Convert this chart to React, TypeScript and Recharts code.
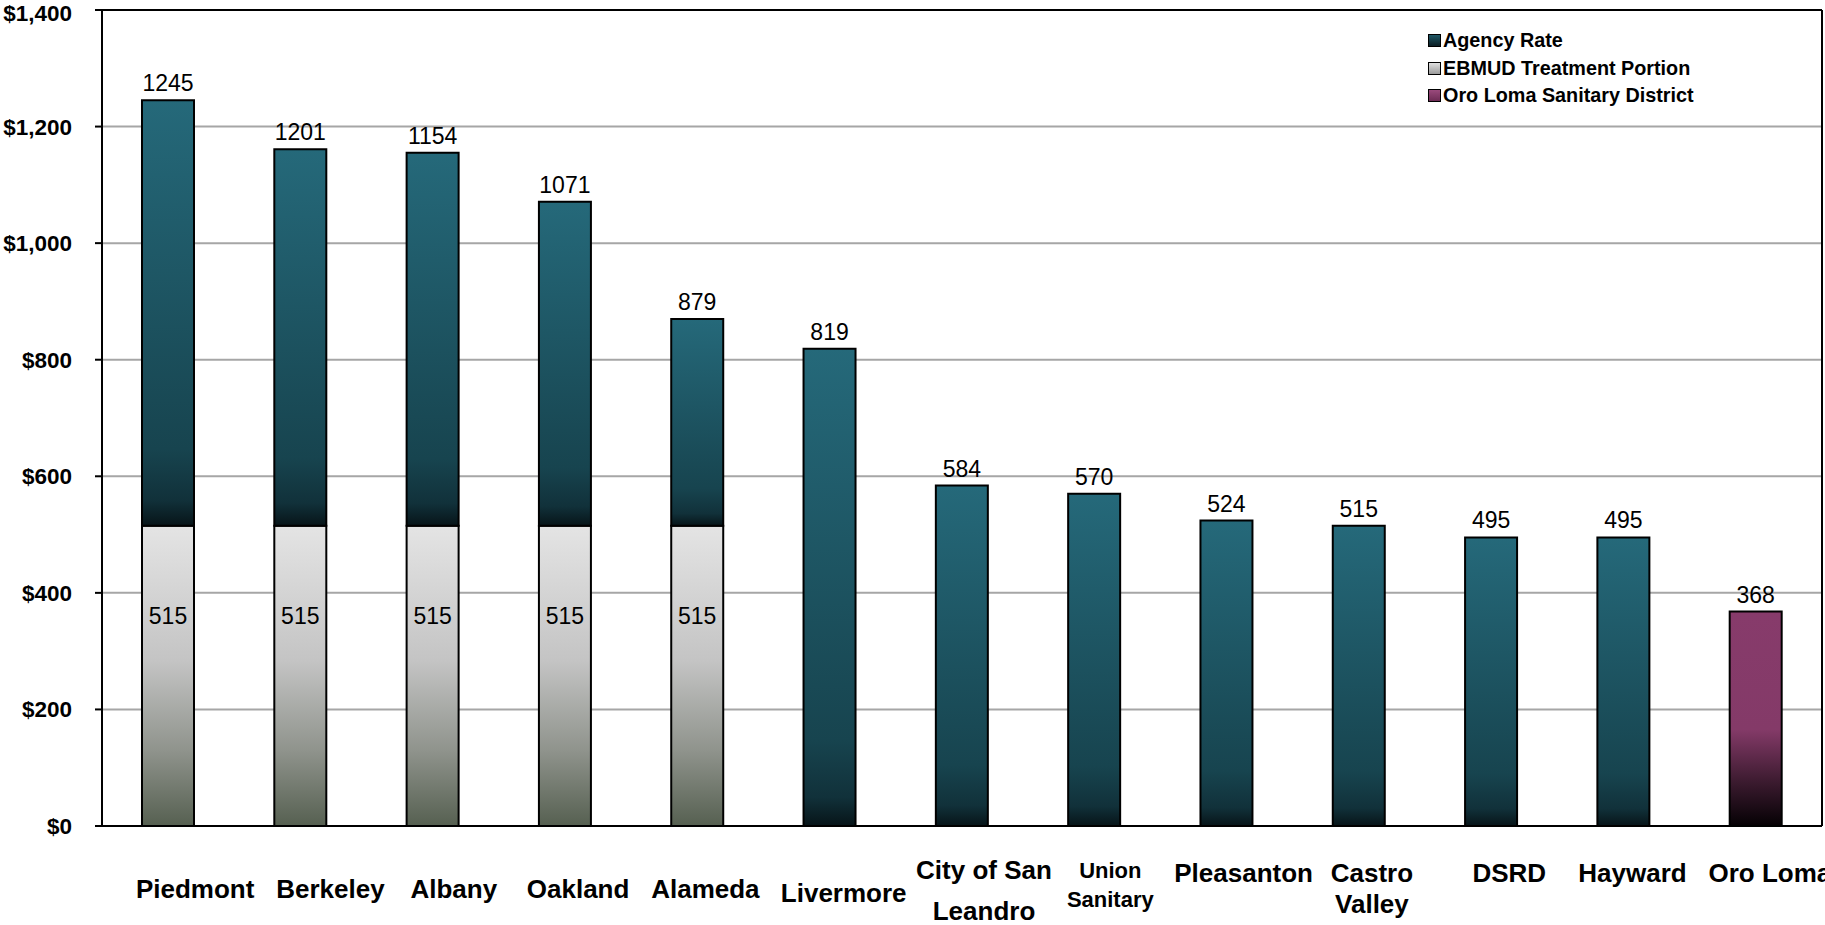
import React from 'react';
import { BarChart, Bar, XAxis, YAxis, CartesianGrid, ReferenceLine, LabelList } from 'recharts';

if (typeof document !== 'undefined') document.body.style.margin = '0';

const categories = [
  'Piedmont', 'Berkeley', 'Albany', 'Oakland', 'Alameda', 'Livermore', 'City of San Leandro',
  'Union Sanitary', 'Pleasanton', 'Castro Valley', 'DSRD', 'Hayward', 'Oro Loma',
];
// EBMUD treatment portion (bottom of the stacked bars)
const ebmudPortion = [515, 515, 515, 515, 515, null, null, null, null, null, null, null, null];
// agency rate on top of it
const agencyRate = [730, 646, 640, 556, 355, 819, 584, 570, 524, 515, 495, 495, null];
const oroLomaRate = [null, null, null, null, null, null, null, null, null, null, null, null, 368];
const totalLabels = ['1245', '1201', '1154', '1071', '879', '819', '584', '570', '524', '515', '495', '495', '368'];
const yTicks = [0, 200, 400, 600, 800, 1000, 1200, 1400];

const data = categories.map((name, i) => ({
  name,
  ebmud: ebmudPortion[i],
  agency: agencyRate[i],
  oro: oroLomaRate[i],
  agencyLabel: agencyRate[i] != null ? totalLabels[i] : null,
  oroLabel: oroLomaRate[i] != null ? totalLabels[i] : null,
}));

const FONT = '"Liberation Sans", Arial, sans-serif';

// how each category label is broken and placed under the axis
const tickLayout: Record<string, { lines: string[]; dy: number[]; dx: number; size: number }> = {
  'Piedmont': { lines: ['Piedmont'], dy: [63], dx: 27, size: 26 },
  'Berkeley': { lines: ['Berkeley'], dy: [63], dx: 30, size: 26 },
  'Albany': { lines: ['Albany'], dy: [63], dx: 21, size: 26 },
  'Oakland': { lines: ['Oakland'], dy: [63], dx: 13, size: 26 },
  'Alameda': { lines: ['Alameda'], dy: [63], dx: 8, size: 26 },
  'Livermore': { lines: ['Livermore'], dy: [67], dx: 14, size: 26 },
  'City of San Leandro': { lines: ['City of San', 'Leandro'], dy: [44, 85], dx: 22, size: 26 },
  'Union Sanitary': { lines: ['Union', 'Sanitary'], dy: [44, 73], dx: 16, size: 22 },
  'Pleasanton': { lines: ['Pleasanton'], dy: [47], dx: 17, size: 26 },
  'Castro Valley': { lines: ['Castro', 'Valley'], dy: [47, 78], dx: 13, size: 26 },
  'DSRD': { lines: ['DSRD'], dy: [47], dx: 18, size: 26 },
  'Hayward': { lines: ['Hayward'], dy: [47], dx: 9, size: 26 },
  'Oro Loma': { lines: ['Oro Loma'], dy: [47], dx: 14, size: 26 },
};

const CategoryTick = (props: any) => {
  const { x, y, payload } = props;
  const l = tickLayout[payload.value];
  if (!l) return null;
  return (
    <g>
      {l.lines.map((line, k) => (
        <text key={k} x={x + l.dx} y={y + l.dy[k]} textAnchor="middle" dominantBaseline="central"
          fontFamily={FONT} fontWeight="bold" fontSize={l.size} fill="#000">{line}</text>
      ))}
    </g>
  );
};

const TopLabel = (props: any) => {
  const { x, y, width, value } = props;
  if (value == null || value === '') return null;
  return (
    <text x={x + width / 2} y={y - 9} textAnchor="middle" fontFamily={FONT} fontSize={23} fill="#000">{value}</text>
  );
};

const InnerLabel = (props: any) => {
  const { x, y, width, height, value } = props;
  if (value == null) return null;
  return (
    <text x={x + width / 2} y={y + height * 0.3 + 8} textAnchor="middle" fontFamily={FONT} fontSize={23} fill="#000">{value}</text>
  );
};

const legendItems = [
  { label: 'Agency Rate', fill: 'linear-gradient(#1f5866, #0b1e24)' },
  { label: 'EBMUD Treatment Portion', fill: 'linear-gradient(#e0e0e0, #9a9a9a)' },
  { label: 'Oro Loma Sanitary District', fill: 'linear-gradient(#9a4a7c, #6d2c55)' },
];

const LegendBox = () => (
  <div style={{ position: 'absolute', top: 27, left: 1428, fontFamily: FONT, fontWeight: 'bold', fontSize: 19.8, lineHeight: '27.5px' }}>
    {legendItems.map((it) => (
      <div key={it.label} style={{ display: 'flex', alignItems: 'center' }}>
        <span style={{ display: 'inline-block', width: 11, height: 11, border: '1.5px solid #000', background: it.fill, marginRight: 2 }} />
        <span>{it.label}</span>
      </div>
    ))}
  </div>
);

export default function App() {
  return (
    <div style={{ position: 'relative', width: 1825, height: 925 }}>
      <BarChart width={1825} height={925} data={data} barSize={52}
        margin={{ top: 10, right: 0, left: 0, bottom: 0 }}>
        <defs>
          <linearGradient id="gAgency" x1="0" y1="0" x2="0" y2="1">
            <stop offset="0%" stopColor="#25697a" />
            <stop offset="82%" stopColor="#17444f" />
            <stop offset="94%" stopColor="#11313a" />
            <stop offset="100%" stopColor="#071418" />
          </linearGradient>
          <linearGradient id="gEbmud" x1="0" y1="0" x2="0" y2="1">
            <stop offset="0%" stopColor="#e4e4e4" />
            <stop offset="45%" stopColor="#c4c4c4" />
            <stop offset="75%" stopColor="#8f938c" />
            <stop offset="100%" stopColor="#566051" />
          </linearGradient>
          <linearGradient id="gOro" x1="0" y1="0" x2="0" y2="1">
            <stop offset="0%" stopColor="#873b6b" />
            <stop offset="55%" stopColor="#843a68" />
            <stop offset="80%" stopColor="#3a1a2e" />
            <stop offset="100%" stopColor="#050104" />
          </linearGradient>
        </defs>
        <CartesianGrid vertical={false} stroke="#a6a6a6" strokeWidth={2} />
        <XAxis dataKey="name" interval={0} height={99} tickLine={false} tickSize={0} tickMargin={0}
          axisLine={{ stroke: '#000', strokeWidth: 2 }} tick={<CategoryTick />} />
        <YAxis domain={[0, 1400]} ticks={yTicks} width={102} tickSize={7} tickMargin={23}
          tickFormatter={(v: number) => '$' + v.toLocaleString('en-US')}
          axisLine={{ stroke: '#000', strokeWidth: 2 }} tickLine={{ stroke: '#000', strokeWidth: 2 }}
          tick={{ fontFamily: FONT, fontWeight: 'bold', fontSize: 22.5, fill: '#000' }} />
        <YAxis yAxisId="edge" orientation="right" domain={[0, 1400]} width={3} tick={false} tickLine={false}
          axisLine={{ stroke: '#000', strokeWidth: 2 }} />
        <ReferenceLine y={1400} stroke="#000" strokeWidth={2} />
        <Bar dataKey="ebmud" stackId="a" fill="url(#gEbmud)" stroke="#000" strokeWidth={2} isAnimationActive={false}>
          <LabelList dataKey="ebmud" content={<InnerLabel />} />
        </Bar>
        <Bar dataKey="agency" stackId="a" fill="url(#gAgency)" stroke="#000" strokeWidth={2} isAnimationActive={false}>
          <LabelList dataKey="agencyLabel" content={<TopLabel />} />
        </Bar>
        <Bar dataKey="oro" stackId="a" fill="url(#gOro)" stroke="#000" strokeWidth={2} isAnimationActive={false}>
          <LabelList dataKey="oroLabel" content={<TopLabel />} />
        </Bar>
      </BarChart>
      <LegendBox />
    </div>
  );
}
